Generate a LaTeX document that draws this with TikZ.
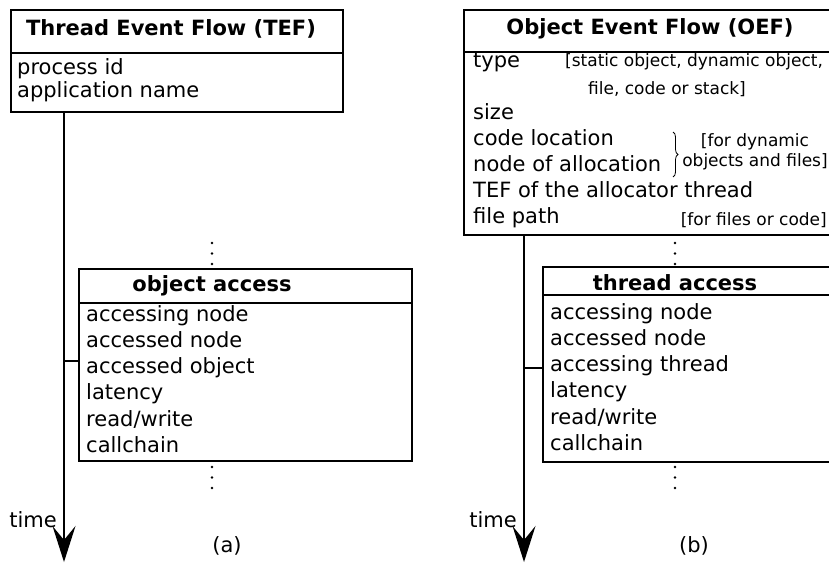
\documentclass[tikz,border=0pt]{standalone}
\usepackage{fontspec}
\setmainfont{DejaVu Sans}
\usetikzlibrary{arrows.meta,decorations.pathreplacing}
\begin{document}
\begin{tikzpicture}
[
   x=1pt, y=-1pt,
   box/.style={draw,line width=1.6pt,inner sep=0pt,anchor=north west},
   title/.style={inner sep=0pt,font=\fontsize{21}{25}\selectfont\bfseries},
   rows/.style={inner sep=0pt,anchor=west,align=left,font=\fontsize{21}{26.2}\selectfont},
   note/.style={inner sep=0pt,align=center,font=\fontsize{17}{20}\selectfont},
   timeline/.style={line width=1.6pt,-{Stealth[length=36pt,width=23pt,inset=14pt]}}
]
\useasboundingbox (0,0) rectangle (829,563);
\clip (0,0) rectangle (829,563);

% (a) thread event flow
\node [box,minimum width=332pt,minimum height=43pt] (tefhead) at (10,9) {};
\node [box,minimum width=332pt,minimum height=59pt] (tefbody) at (10,52) {};
\node [title] (teftitle) at (171,29) {Thread Event Flow (TEF)};
\node [rows,font=\fontsize{21}{23}\selectfont] (tefrows) at (17,80) {process id\\application name};

\node [box,minimum width=333pt,minimum height=34pt] (oahead) at (78,268) {};
\node [box,minimum width=333pt,minimum height=158pt] (oabody) at (78,302) {};
\node [title] (oatitle) at (212,286) {object access};
\node [rows] (oarows) at (86,379) {accessing node\\accessed node\\accessed object\\latency\\read/write\\callchain};

\foreach \y in {243,253.5,264,467,477.5,488}
  \fill (212,\y) circle (1.4pt);

\coordinate (enda) at (64,562);
\coordinate (ticka) at (64,361);
\draw [timeline] (tefbody.south -| enda) -- (enda);
\draw [line width=1.6pt] (ticka) -- (ticka -| oabody.west);
\node [rows,anchor=center] (timea) at (33,520) {time};
\node [rows,anchor=center] (capa) at (227,546) {(a)};

% (b) object event flow
\node [box,minimum width=374pt,minimum height=42pt] (oefhead) at (463,9) {};
\node [box,minimum width=374pt,minimum height=183pt] (oefbody) at (463,51) {};
\node [title] (oeftitle) at (650,29) {Object Event Flow (OEF)};
\node [rows,font=\fontsize{21}{26}\selectfont] (oefrows) at (473,140)
  {type\\[\baselineskip]size\\code location\\node of allocation\\TEF of the allocator thread\\file path};
\node [note,anchor=west] (typenote) at (565,62) {[static object, dynamic object,};
\node [note] (typenotes) at (667,89) {file, code or stack]};
\node [note] (dynnote) at (755,152) {[for dynamic\\objects and files]};
\node [note,anchor=east] (filenote) at (827,220) {[for files or code]};
\draw [line width=0.8pt,decorate,decoration={brace,amplitude=5pt}] (673,132) -- (673,177);

\node [box,minimum width=300pt,minimum height=28pt] (tahead) at (542,266) {};
\node [box,minimum width=300pt,minimum height=167pt] (tabody) at (542,294) {};
\node [title] (tatitle) at (675,283) {thread access};
\node [rows] (tarows) at (550,377) {accessing node\\accessed node\\accessing thread\\latency\\read/write\\callchain};

\foreach \y in {243,253.5,264,467,477.5,488}
  \fill (675,\y) circle (1.4pt);

\coordinate (endb) at (524,562);
\coordinate (tickb) at (524,368);
\draw [timeline] (oefbody.south -| endb) -- (endb);
\draw [line width=1.6pt] (tickb) -- (tickb -| tabody.west);
\node [rows,anchor=center] (timeb) at (493,520) {time};
\node [rows,anchor=center] (capb) at (694,546) {(b)};
\end{tikzpicture}
\end{document}
